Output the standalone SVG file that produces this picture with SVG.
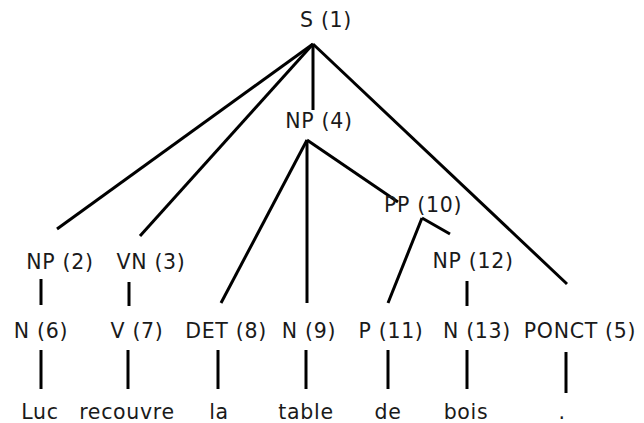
<svg xmlns="http://www.w3.org/2000/svg" width="644" height="423" viewBox="0 0 644 423">
<style>
text{font-family:"DejaVu Sans",sans-serif;font-size:20.5px;letter-spacing:0.7px;fill:#1a1a1a;text-anchor:middle}
.e line{stroke:#000;stroke-width:3;stroke-linecap:butt}
</style>
<rect width="644" height="423" fill="#fff"/>
<g class="e" id="connectors">
<line x1="313" y1="44" x2="57" y2="229"/>
<line x1="313" y1="44" x2="140" y2="236"/>
<line x1="313" y1="44" x2="313" y2="110"/>
<line x1="313" y1="44" x2="567" y2="284"/>
<line x1="307" y1="140" x2="221" y2="303"/>
<line x1="307" y1="140" x2="307" y2="303"/>
<line x1="307" y1="140" x2="398" y2="202"/>
<line x1="422" y1="218" x2="388" y2="303"/>
<line x1="422" y1="218" x2="450" y2="234"/>
<line x1="41" y1="279" x2="41" y2="305"/>
<line x1="129" y1="282" x2="129" y2="306"/>
<line x1="467" y1="281" x2="467" y2="306"/>
<line x1="41" y1="350" x2="41" y2="389"/>
<line x1="128" y1="350" x2="128" y2="389"/>
<line x1="218" y1="350" x2="218" y2="389"/>
<line x1="306" y1="350" x2="306" y2="389"/>
<line x1="388" y1="350" x2="388" y2="389"/>
<line x1="467" y1="350" x2="467" y2="389"/>
<line x1="566" y1="352" x2="566" y2="393"/>
</g>
<g id="n1"><text x="326" y="27">S (1)</text></g>
<g id="n4"><text x="319" y="128">NP (4)</text></g>
<g id="n10"><text x="423" y="212">PP (10)</text></g>
<g id="n2"><text x="60" y="269">NP (2)</text></g>
<g id="n3"><text x="151" y="269">VN (3)</text></g>
<g id="n12"><text x="473" y="268">NP (12)</text></g>
<g id="n6"><text x="41" y="338">N (6)</text></g>
<g id="n7"><text x="137" y="338">V (7)</text></g>
<g id="n8"><text x="226" y="338">DET (8)</text></g>
<g id="n9"><text x="309" y="338">N (9)</text></g>
<g id="n11"><text x="391" y="338">P (11)</text></g>
<g id="n13"><text x="477" y="338">N (13)</text></g>
<g id="n5"><text x="580" y="338">PONCT (5)</text></g>
<g id="w1"><text x="40" y="419">Luc</text></g>
<g id="w2"><text x="127" y="419">recouvre</text></g>
<g id="w3"><text x="219" y="419">la</text></g>
<g id="w4"><text x="306" y="419">table</text></g>
<g id="w5"><text x="388" y="419">de</text></g>
<g id="w6"><text x="466" y="419">bois</text></g>
<g id="w7"><text x="562" y="419">.</text></g>
</svg>
